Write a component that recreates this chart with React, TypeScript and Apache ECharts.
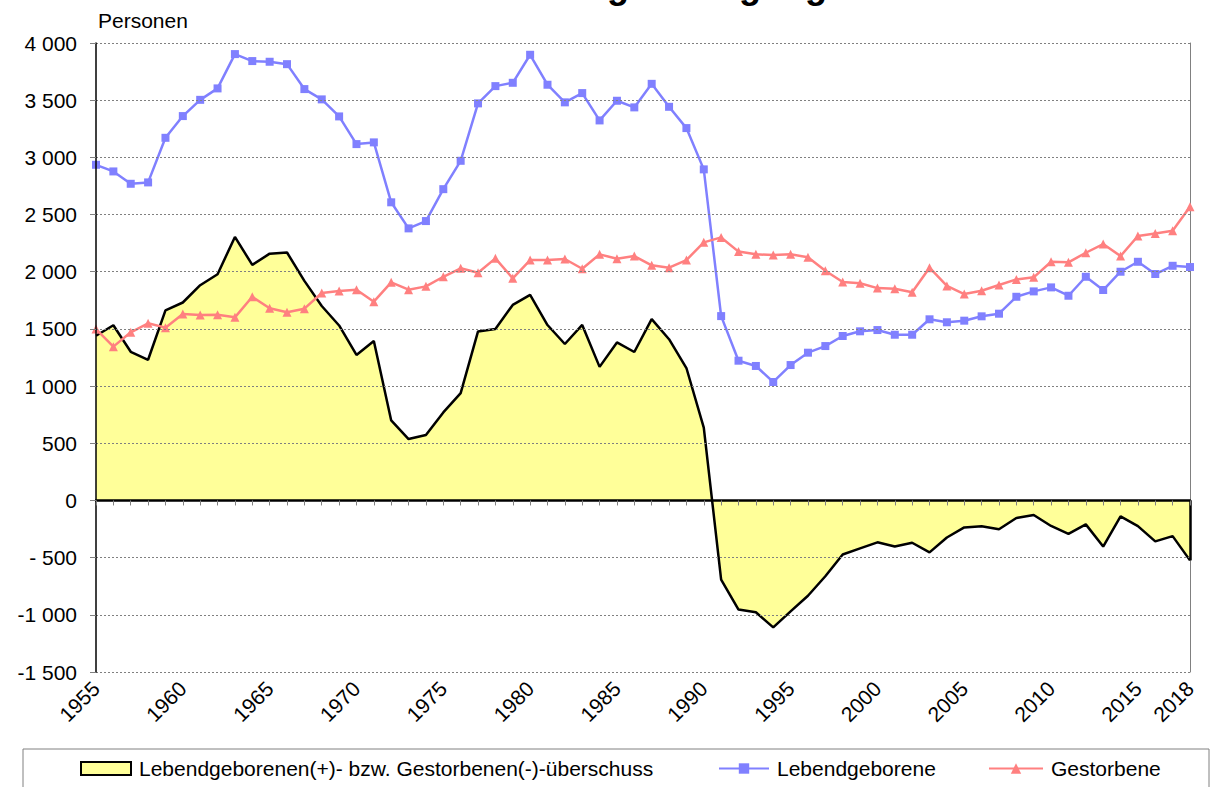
import React, { useEffect, useRef } from "react";
import * as echarts from "echarts";

const years: string[] = [];
for (let y = 1955; y <= 2018; y++) years.push(String(y));

const births = [
  2935, 2877, 2769, 2781, 3171, 3361, 3503, 3603, 3903, 3842,
  3836, 3815, 3597, 3507, 3358, 3116, 3131, 2607, 2379, 2443,
  2722, 2970, 3472, 3623, 3652, 3897, 3635, 3481, 3562, 3323,
  3495, 3437, 3643, 3442, 3256, 2895, 1612, 1222, 1176, 1036,
  1184, 1292, 1350, 1438, 1479, 1490, 1449, 1449, 1584, 1558,
  1572, 1610, 1633, 1781, 1828, 1863, 1790, 1956, 1840, 2000,
  2087, 1980, 2052, 2041,
];

const deaths = [
  1499, 1345, 1470, 1549, 1511, 1630, 1622, 1624, 1601, 1781,
  1680, 1645, 1677, 1814, 1831, 1843, 1738, 1907, 1843, 1872,
  1956, 2030, 1991, 2117, 1942, 2102, 2102, 2111, 2026, 2152,
  2114, 2137, 2056, 2035, 2102, 2257, 2300, 2176, 2152, 2146,
  2152, 2126, 2009, 1910, 1899, 1857, 1851, 1820, 2035, 1876,
  1805, 1834, 1884, 1933, 1951, 2087, 2082, 2166, 2242, 2137,
  2312, 2335, 2358, 2568,
];

const surplus = [
  1440, 1532, 1300, 1230, 1662, 1731, 1882, 1978, 2304, 2060,
  2158, 2168, 1920, 1700, 1530, 1272, 1394, 700, 537, 572,
  770, 938, 1478, 1500, 1710, 1797, 1534, 1368, 1535, 1168,
  1382, 1298, 1586, 1410, 1158, 637, -692, -954, -978, -1110,
  -970, -833, -663, -473, -419, -366, -403, -370, -454, -324,
  -236, -225, -252, -154, -127, -223, -292, -209, -403, -140,
  -224, -358, -312, -524,
];

const yTickValues = [-1500, -1000, -500, 0, 500, 1000, 1500, 2000, 2500, 3000, 3500, 4000];
const yTickLabels = ["-1 500", "-1 000", "- 500", "0", "500", "1 000", "1 500", "2 000", "2 500", "3 000", "3 500", "4 000"];

const SURPLUS_NAME = "Lebendgeborenen(+)- bzw. Gestorbenen(-)-überschuss";
const BIRTHS_NAME = "Lebendgeborene";
const DEATHS_NAME = "Gestorbene";
const TITLE = "Natürliche Bevölkerungsbewegung";
const UNIT = "Personen";

const FONT = "'Liberation Sans', Arial, sans-serif";
const FS = 21;

export default function App() {
  const ref = useRef<HTMLDivElement>(null);
  useEffect(() => {
    if (!ref.current) return;
    const chart = echarts.init(ref.current, undefined, { renderer: "svg" });
    const lastIdx = years.length - 1;
    const legendText = { fontSize: FS, color: "#000", fontFamily: FONT, padding: [0, 0, 0, 3] };
    chart.setOption({
      animation: false,
      backgroundColor: "#fff",
      textStyle: { fontFamily: FONT },
      grid: { left: 96, right: 26, top: 43, bottom: 115, containLabel: false },
      graphic: [
        {
          type: "rect",
          z: 0,
          shape: { x: 23, y: 749, width: 1186, height: 60 },
          style: { fill: "#fff", stroke: "#808080", lineWidth: 1 },
        },
        {
          type: "text",
          x: 827,
          y: -15,
          style: {
            text: TITLE,
            fontSize: 36,
            fontWeight: "bold",
            fontFamily: FONT,
            fill: "#000",
            align: "right",
            verticalAlign: "middle",
          },
        },
        {
          type: "text",
          x: 98,
          y: 20,
          style: {
            text: UNIT,
            fontSize: FS,
            fontFamily: FONT,
            fill: "#000",
            align: "left",
            verticalAlign: "middle",
          },
        },
      ],
      legend: [
        {
          left: 80,
          top: 758,
          padding: 0,
          itemWidth: 50,
          itemHeight: 13,
          textStyle: legendText,
          data: [
            {
              name: SURPLUS_NAME,
              icon: "rect",
              itemStyle: { color: "#ffff99", borderColor: "#000", borderWidth: 2 },
            },
          ],
        },
        {
          left: 718,
          top: 758,
          padding: 0,
          itemWidth: 50,
          itemHeight: 13,
          textStyle: legendText,
          data: [{ name: BIRTHS_NAME }],
        },
        {
          left: 988,
          top: 758,
          padding: 0,
          itemWidth: 54,
          itemHeight: 13,
          textStyle: legendText,
          data: [{ name: DEATHS_NAME }],
        },
      ],
      xAxis: [
        {
          type: "category",
          data: years,
          boundaryGap: false,
          z: 5,
          axisLine: { onZero: true, onZeroAxisIndex: 0, lineStyle: { color: "#000", width: 2.5 } },
          axisTick: { show: true, interval: 0, length: 5, lineStyle: { color: "#808080", width: 1 } },
          axisLabel: { show: false },
          splitLine: { show: false },
        },
        {
          type: "category",
          data: years,
          boundaryGap: false,
          position: "bottom",
          axisLine: { show: false, onZero: false },
          axisTick: { show: false },
          splitLine: { show: false },
          axisLabel: {
            show: true,
            rotate: 45,
            margin: 13,
            fontSize: FS,
            color: "#000",
            fontFamily: FONT,
            interval: (i: number) => i % 5 === 0 || i === lastIdx,
          },
        },
      ],
      yAxis: [
        {
          type: "value",
          min: -1500,
          max: 4000,
          interval: 500,
          z: 5,
          axisLine: { show: true, lineStyle: { color: "#000", width: 1.5 } },
          axisTick: { show: true, length: 6, lineStyle: { color: "#808080" } },
          axisLabel: {
            fontSize: FS,
            color: "#000",
            fontFamily: FONT,
            margin: 19,
            formatter: (v: number) => {
              const i = yTickValues.indexOf(v);
              return i >= 0 ? yTickLabels[i] : String(v);
            },
          },
          splitLine: { show: true, lineStyle: { color: "#808080", type: [2, 2], width: 1 } },
        },
        {
          type: "value",
          min: -1500,
          max: 4000,
          interval: 500,
          position: "right",
          axisLine: { show: true, lineStyle: { color: "#808080", width: 1 } },
          axisTick: { show: false },
          axisLabel: { show: false },
          splitLine: { show: false },
        },
      ],
      series: [
        {
          name: SURPLUS_NAME,
          type: "line",
          data: surplus,
          xAxisIndex: 0,
          yAxisIndex: 0,
          symbol: "none",
          itemStyle: { color: "#ffff99", borderColor: "#000" },
          lineStyle: { color: "#000", width: 2.5 },
          areaStyle: { color: "#ffff99", opacity: 1 },
          z: 1,
          markLine: {
            silent: true,
            symbol: ["none", "none"],
            label: { show: false },
            lineStyle: { color: "#000", width: 2.5, type: "solid" },
            data: [
              [
                { coord: [years[lastIdx], 0] },
                { coord: [years[lastIdx], surplus[lastIdx]] },
              ],
            ],
          },
        },
        {
          name: BIRTHS_NAME,
          type: "line",
          data: births,
          xAxisIndex: 0,
          yAxisIndex: 0,
          symbol: "rect",
          symbolSize: 8,
          itemStyle: { color: "#8080ff" },
          lineStyle: { color: "#8080ff", width: 2.5 },
          z: 3,
        },
        {
          name: DEATHS_NAME,
          type: "line",
          data: deaths,
          xAxisIndex: 0,
          yAxisIndex: 0,
          symbol: "triangle",
          symbolSize: 9,
          itemStyle: { color: "#ff8080" },
          lineStyle: { color: "#ff8080", width: 2.5 },
          z: 4,
        },
      ],
    });
    return () => chart.dispose();
  }, []);
  return (
    <div
      ref={ref}
      style={{ position: "fixed", left: 0, top: 0, width: 1216, height: 787 }}
    />
  );
}
